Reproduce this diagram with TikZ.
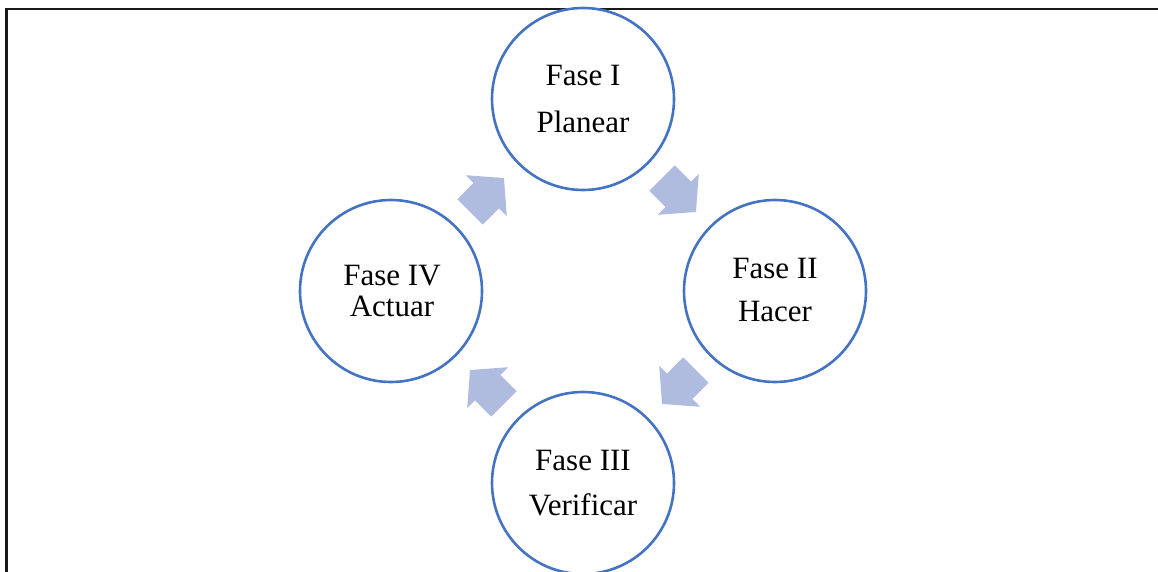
\documentclass[tikz,border=0pt]{standalone}
\usepackage{fontspec}
\setmainfont{Liberation Serif}
\usetikzlibrary{calc}
\definecolor{ringblue}{RGB}{68,114,196}
\definecolor{arrowfill}{RGB}{176,188,223}
\tikzset{
  phase/.style={circle, draw=ringblue, line width=2.6pt, fill=white,
    minimum size=182pt, inner sep=0pt},
  phasetext/.style={anchor=base, font=\fontsize{31}{31}\selectfont, inner sep=0pt},
  cyclearrow/.style={fill=arrowfill, draw=none},
  frameline/.style={line width=2.3pt, draw=black!90}
}
% block arrow centred between two phases, pointing from #1 towards #2
\newcommand\blockarrow[2]{%
  \coordinate (m#1#2) at ($(#1)!0.5!(#2)$);
  \coordinate (t#1#2) at ($(m#1#2)!24pt!(#1)$);
  \coordinate (n#1#2) at ($(m#1#2)!1pt!(#1)$);
  \coordinate (p#1#2) at ($(m#1#2)!24pt!(#2)$);
  \fill[cyclearrow]
    ($(t#1#2)!18pt!90:(p#1#2)$) -- ($(n#1#2)!18pt!90:(p#1#2)$) --
    ($(n#1#2)!29pt!90:(p#1#2)$) -- (p#1#2) --
    ($(n#1#2)!29pt!-90:(p#1#2)$) -- ($(n#1#2)!18pt!-90:(p#1#2)$) --
    ($(t#1#2)!18pt!-90:(p#1#2)$) -- cycle;
}
\begin{document}
\begin{tikzpicture}[x=1pt, y=-1pt]
  \useasboundingbox (0,0) rectangle (1158,572);
  % frame edges
  \coordinate (fbl) at (6.5,572);
  \coordinate (ftl) at (6.5,9.3);
  \coordinate (ftr) at (1158,9.3);
  \draw[frameline] (fbl) -- (ftl) -- (ftr);

  % the four phases of the cycle
  \node[phase] (P1) at (583,99) {};
  \node[phase] (P2) at (775,291) {};
  \node[phase] (P3) at (583,483) {};
  \node[phase] (P4) at (391,291) {};

  % arrows between phases
  \blockarrow{P1}{P2}
  \blockarrow{P2}{P3}
  \blockarrow{P3}{P4}
  \blockarrow{P4}{P1}

  % labels
  \node[phasetext] (L1a) at (583,86) {Fase I};
  \node[phasetext] (L1b) at (583,133) {Planear};
  \node[phasetext] (L2a) at (775,278) {Fase II};
  \node[phasetext] (L2b) at (775,321) {Hacer};
  \node[phasetext] (L3a) at (583,470) {Fase III};
  \node[phasetext] (L3b) at (583,515) {Verificar};
  \node[phasetext] (L4a) at (392,285) {Fase IV};
  \node[phasetext] (L4b) at (392,316) {Actuar};
\end{tikzpicture}
\end{document}
